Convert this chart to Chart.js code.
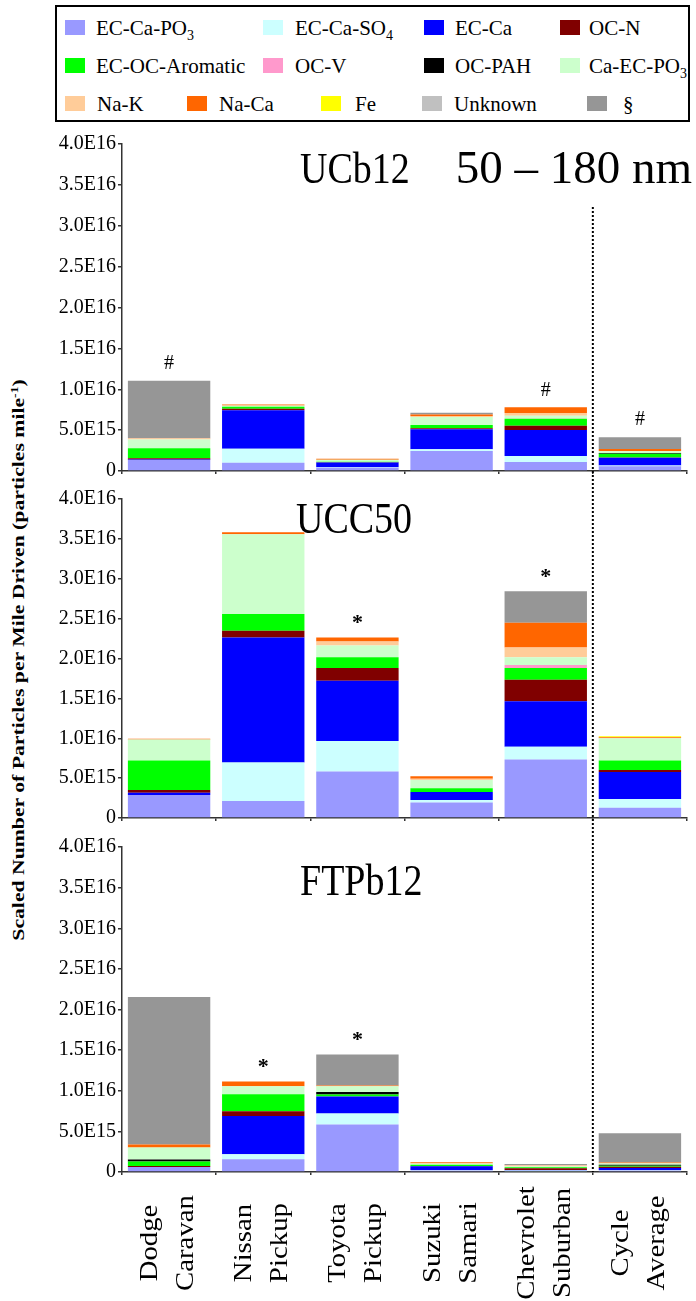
<!DOCTYPE html>
<html>
<head>
<meta charset="utf-8">
<script src="https://cdn.jsdelivr.net/npm/chart.js@4.4.1/dist/chart.umd.min.js"></script>
<style>
body { margin: 0; background: #fff; width: 696px; height: 1301px; position: relative; overflow: hidden;
       font-family: 'Liberation Serif', 'Times New Roman', serif; }
#legend { position: absolute; left: 55px; top: 5px; width: 635px; height: 117px; border: 2px solid #000; box-sizing: border-box; }
.sw { position: absolute; width: 20px; height: 15px; }
.lt { position: absolute; font-size: 21px; line-height: 15px; white-space: nowrap; color: #000; }
.lt sub { font-size: 14px; vertical-align: -5px; line-height: 0; }
canvas { position: absolute; left: 0; }
#ytitle { position: absolute; width: 700px; left: -332px; top: 650px; height: 20px; line-height: 20px;
          text-align: center; font-weight: bold; font-size: 17.5px; white-space: nowrap;
          transform: rotate(-90deg) scaleX(1.24); }
#ytitle sup { font-size: 11px; vertical-align: 6px; line-height: 0; }
</style>
</head>
<body>
<div id="legend"></div>
<div id="ytitle">Scaled Number of Particles per Mile Driven (particles mile<sup>-1</sup>)</div>
<canvas id="c1" width="696" height="360" style="top:125px"></canvas>
<canvas id="c2" width="696" height="347" style="top:485px"></canvas>
<canvas id="c3" width="696" height="469" style="top:832px"></canvas>
<script>
// vehicles (two-line labels)
const categories = [['Dodge', 'Caravan'], ['Nissan', 'Pickup'], ['Toyota', 'Pickup'],
                    ['Suzuki', 'Samari'], ['Chevrolet', 'Suburban'], ['Cycle', 'Average']];

const seriesNames = ['EC-Ca-PO3', 'EC-Ca-SO4', 'EC-Ca', 'OC-N', 'EC-OC-Aromatic', 'OC-V', 'OC-PAH',
                     'Ca-EC-PO3', 'Na-K', 'Na-Ca', 'Fe', 'Unknown', '§'];
const seriesColors = ['#9999ff', '#ccffff', '#0000ff', '#800000', '#00ff00', '#ff99cc', '#000000',
                      '#ccffcc', '#ffcc99', '#ff6600', '#ffff00', '#c0c0c0', '#969696'];

const yTickLabels = ['0', '5.0E15', '1.0E16', '1.5E16', '2.0E16', '2.5E16', '3.0E16', '3.5E16', '4.0E16'];

// values in units of 1E15 particles/mile, one row per series (same order as seriesNames)
const ucb12Values = [
  [1.35, 1.0, 0.4, 2.45, 1.1, 0.57],
  [0, 1.72, 0.05, 0.2, 0.74, 0.1],
  [0.05, 4.7, 0.6, 2.45, 3.19, 0.94],
  [0.16, 0.2, 0.02, 0.12, 0.49, 0.05],
  [1.23, 0.25, 0.05, 0.4, 0.86, 0.45],
  [0, 0, 0, 0, 0.05, 0],
  [0, 0, 0, 0, 0, 0.1],
  [1.06, 0.1, 0.25, 0.98, 0.33, 0.2],
  [0.12, 0.05, 0, 0.12, 0.33, 0.03],
  [0.03, 0.12, 0.12, 0.2, 0.7, 0.25],
  [0, 0, 0, 0, 0, 0],
  [0, 0, 0, 0, 0, 0],
  [7.04, 0, 0, 0.2, 0, 1.45]
];
const ucc50Values = [
  [2.88, 2.14, 5.84, 1.93, 7.33, 1.28],
  [0, 4.81, 3.83, 0.33, 1.6, 1.11],
  [0.29, 15.68, 7.53, 0.99, 5.72, 3.37],
  [0.33, 0.86, 1.6, 0, 2.67, 0.25],
  [3.7, 2.1, 1.36, 0.49, 1.48, 1.19],
  [0, 0, 0, 0, 0.37, 0],
  [0, 0, 0, 0, 0, 0],
  [2.63, 10.0, 1.48, 1.03, 0.99, 2.8],
  [0, 0, 0.49, 0.16, 1.23, 0],
  [0.12, 0.25, 0.49, 0.29, 3.09, 0.12],
  [0, 0, 0, 0, 0, 0.12],
  [0, 0, 0, 0, 0, 0],
  [0, 0, 0, 0, 3.95, 0]
];
const ftpb12Values = [
  [0.61, 1.56, 5.86, 0.2, 0.1, 0.2],
  [0, 0.61, 1.35, 0.05, 0.08, 0.05],
  [0, 4.71, 2.09, 0.45, 0.08, 0.25],
  [0.12, 0.61, 0, 0.05, 0.2, 0.15],
  [0.57, 2.09, 0.25, 0.15, 0.12, 0.12],
  [0, 0, 0, 0, 0, 0],
  [0.25, 0, 0.29, 0, 0, 0.12],
  [1.48, 0.98, 0.7, 0.12, 0.1, 0.15],
  [0, 0, 0, 0.05, 0.12, 0.03],
  [0.37, 0.57, 0.12, 0.12, 0.03, 0.1],
  [0, 0, 0, 0, 0, 0],
  [0, 0, 0, 0, 0, 0],
  [18.15, 0, 3.81, 0, 0.15, 3.6]
];

const ucb12Marks = ['#', '', '', '', '#', '#'];
const ucc50Marks = ['', '', '*', '', '*', ''];
const ftpb12Marks = ['', '*', '*', '', '', ''];

const serif = "'Liberation Serif', 'Times New Roman', serif";

// legend (html, positions in page px)
const legendPos = [[65, 27], [263, 27], [424, 27], [560, 27],
                   [65, 65], [263, 65], [424, 65], [560, 65],
                   [65, 103], [187, 103], [321, 103], [422, 103], [587, 103]];
const legendTextGap = [31, 32, 31, 29, 31, 32, 31, 29, 32, 32, 34, 32, 36];
let legendHtml = '';
seriesNames.forEach((name, i) => {
    let x = legendPos[i][0] - 57, y = legendPos[i][1] - 7 - 7.5;
    let label = name.replace(/O(\d)$/, 'O<sub>$1</sub>');
    legendHtml += `<div class="sw" style="left:${x}px;top:${y}px;background:${seriesColors[i]}"></div>`;
    legendHtml += `<div class="lt" style="left:${x + legendTextGap[i]}px;top:${y + 1.5}px">${label}</div>`;
});
document.getElementById('legend').innerHTML = legendHtml;

function panelPlugin(cfg) {
    return {
        id: 'panelExtras',
        afterDatasetsDraw(chart) {
            let ctx = chart.ctx;
            let xs = chart.scales.x, ys = chart.scales.y;
            let area = chart.chartArea;

            // dotted separator before cycle average
            let xd = (xs.getPixelForValue(4) + xs.getPixelForValue(5)) / 2;
            ctx.save();
            ctx.strokeStyle = '#000';
            ctx.lineWidth = 2;
            ctx.setLineDash([2, 2]);
            ctx.lineDashOffset = cfg.dashOffset;
            ctx.beginPath();
            ctx.moveTo(xd, cfg.dotTop);
            ctx.lineTo(xd, cfg.bottom ? area.bottom : chart.height);
            ctx.stroke();
            ctx.restore();

            // significance marks above bars
            ctx.save();
            ctx.fillStyle = '#000';
            ctx.textAlign = 'center';
            ctx.textBaseline = 'middle';
            cfg.marks.forEach((m, i) => {
                if (!m) return;
                let total = cfg.values.reduce((s, row) => s + row[i], 0);
                ctx.font = m === '*' ? `bold 22px ${serif}` : `20px ${serif}`;
                ctx.fillText(m, xs.getPixelForValue(i), ys.getPixelForValue(total) - (m === '*' ? 14 : 17));
            });
            ctx.restore();

            // panel titles
            ctx.save();
            ctx.fillStyle = '#000';
            cfg.titles.forEach(t => {
                ctx.save();
                ctx.font = `${t.size}px ${serif}`;
                ctx.translate(t.x, t.y);
                ctx.scale(1, t.stretch);
                ctx.textAlign = t.align;
                ctx.textBaseline = 'alphabetic';
                ctx.fillText(t.text, 0, 0);
                ctx.restore();
            });
            ctx.restore();

            // vehicle labels under the last panel
            if (cfg.bottom) {
                ctx.save();
                ctx.fillStyle = '#000';
                ctx.font = `25px ${serif}`;
                categories.forEach((lines, i) => {
                    let xc = xs.getPixelForValue(i);
                    lines.forEach((line, j) => {
                        ctx.save();
                        ctx.translate(xc + (j === 0 ? -12 : 24), cfg.labelCenter);
                        ctx.rotate(-Math.PI / 2);
                        ctx.scale(1.15, 1);
                        ctx.textAlign = 'center';
                        ctx.textBaseline = 'alphabetic';
                        ctx.fillText(line, 0, 0);
                        ctx.restore();
                    });
                });
                ctx.restore();
            }
        }
    };
}

function makePanel(canvasId, values, cfg) {
    let ctx = document.getElementById(canvasId).getContext('2d');
    return new Chart(ctx, {
        type: 'bar',
        data: {
            labels: categories.map(c => c.join(' ')),
            datasets: seriesNames.map((name, s) => ({
                label: name,
                data: values[s],
                backgroundColor: seriesColors[s],
                borderWidth: 0,
                barPercentage: 0.875,
                categoryPercentage: 1
            }))
        },
        options: {
            responsive: false,
            animation: false,
            devicePixelRatio: 1,
            layout: { padding: { top: cfg.padTop, left: 0, right: 9, bottom: 0 } },
            plugins: { legend: { display: false }, tooltip: { enabled: false } },
            scales: {
                x: {
                    stacked: true,
                    offset: true,
                    grid: { offset: true, drawOnChartArea: false, tickLength: 3, color: '#333', lineWidth: 1.5 },
                    border: { color: '#333', width: 1.5 },
                    ticks: { display: false },
                    afterFit: s => { s.height = cfg.xHeight; }
                },
                y: {
                    stacked: true,
                    min: 0,
                    max: 40,
                    ticks: {
                        stepSize: 5,
                        color: '#000',
                        padding: 2,
                        font: { family: serif, size: 20 },
                        callback: (v, i) => yTickLabels[i]
                    },
                    grid: { drawOnChartArea: false, tickLength: 4, color: '#333', lineWidth: 1.5 },
                    border: { color: '#333', width: 1.5 },
                    afterFit: s => { s.width = 122; }
                }
            }
        },
        plugins: [panelPlugin(Object.assign({ values: values }, cfg))]
    });
}

makePanel('c1', ucb12Values, {
    padTop: 19, xHeight: 14, dotTop: 82, dashOffset: 0, bottom: false, marks: ucb12Marks,
    titles: [{ text: 'UCb12', x: 300, y: 58, align: 'left', size: 38, stretch: 1.15 },
             { text: '50 – 180 nm', x: 692, y: 58, align: 'right', size: 47, stretch: 1.0 }]
});
makePanel('c2', ucc50Values, {
    padTop: 9, xHeight: 14, dotTop: 0, dashOffset: 2, bottom: false, marks: ucc50Marks,
    titles: [{ text: 'UCC50', x: 354, y: 48, align: 'center', size: 38, stretch: 1.15 }]
});
makePanel('c3', ftpb12Values, {
    padTop: 15, xHeight: 129, dotTop: 0, dashOffset: 1, bottom: true, marks: ftpb12Marks, labelCenter: 411,
    titles: [{ text: 'FTPb12', x: 300, y: 63, align: 'left', size: 38, stretch: 1.15 }]
});
</script>
</body>
</html>
